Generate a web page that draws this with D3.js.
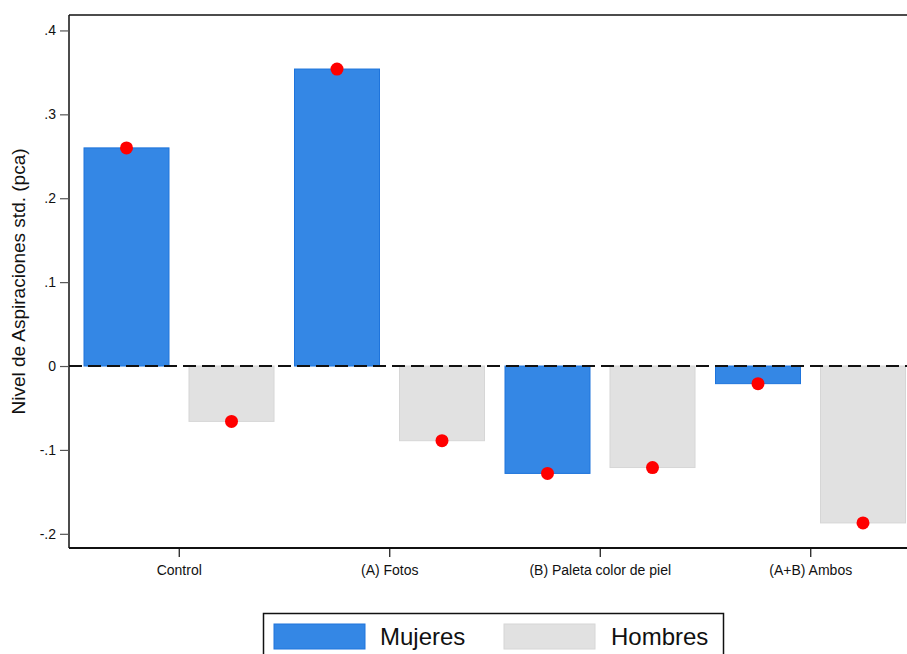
<!DOCTYPE html>
<html><head><meta charset="utf-8">
<script src="https://cdn.jsdelivr.net/npm/d3@7"></script>
<style>body{margin:0;background:#fff}svg{display:block;font-family:"Liberation Sans",Arial,sans-serif}</style>
</head><body><svg id="c" width="907" height="654"></svg>
<script>
const categories = ["Control", "(A) Fotos", "(B) Paleta color de piel", "(A+B) Ambos"];
const seriesNames = ["Mujeres", "Hombres"];
const mujeres = [0.260, 0.354, -0.128, -0.021];
const hombres = [-0.066, -0.089, -0.121, -0.187];
const yTicks = [0.4, 0.3, 0.2, 0.1, 0, -0.1, -0.2];
const yTickLabels = [".4", ".3", ".2", ".1", "0", "-.1", "-.2"];
const colors = {Mujeres: "#3487e5", Hombres: "#e1e1e1"};
const strokes = {Mujeres: "#1e74dc", Hombres: "#d6d6d6"};

const svg = d3.select("#c");
const pL = 69, pT = 15, pB = 548, pR = 907;

const x = d3.scaleBand().domain(categories).range([74, 74 + 4 * 210.5]);
const xi = d3.scaleBand().domain(seriesNames).range([10, 200]).paddingInner(20 / 105);
const y = d3.scaleLinear().domain([-0.2169, 0.4184]).range([pB, pT]);

const data = [];
categories.forEach((c, i) => {
  data.push({cat: c, s: "Mujeres", v: mujeres[i]});
  data.push({cat: c, s: "Hombres", v: hombres[i]});
});

// bars
svg.append("g").selectAll("rect").data(data).join("rect")
  .attr("x", d => x(d.cat) + xi(d.s))
  .attr("width", xi.bandwidth())
  .attr("y", d => y(Math.max(0, d.v)))
  .attr("height", d => Math.abs(y(d.v) - y(0)))
  .attr("fill", d => colors[d.s])
  .attr("stroke", d => strokes[d.s])
  .attr("stroke-width", 1);

// zero line
svg.append("line").attr("x1", pL).attr("x2", pR).attr("y1", y(0)).attr("y2", y(0))
  .attr("stroke", "#111").attr("stroke-width", 2).attr("stroke-dasharray", "13,6");

// points
svg.append("g").selectAll("circle").data(data).join("circle")
  .attr("cx", d => x(d.cat) + xi(d.s) + xi.bandwidth() / 2)
  .attr("cy", d => y(d.v))
  .attr("r", 6.5)
  .attr("fill", "#ff0000");

// frame lines
svg.append("line").attr("x1", pL).attr("x2", pR).attr("y1", pT).attr("y2", pT).attr("stroke", "#111").attr("stroke-width", 1.5);
svg.append("line").attr("x1", pL).attr("x2", pL).attr("y1", pT).attr("y2", pB).attr("stroke", "#111").attr("stroke-width", 1.5);
svg.append("line").attr("x1", pL).attr("x2", pR).attr("y1", pB).attr("y2", pB).attr("stroke", "#111").attr("stroke-width", 2);

// y axis
const yAxis = d3.axisLeft(y).tickValues(yTicks).tickSize(9).tickPadding(4)
  .tickFormat((d, i) => yTickLabels[i]);
const gy = svg.append("g").attr("transform", `translate(${pL},0)`).call(yAxis);
gy.select(".domain").remove();
gy.selectAll(".tick line").attr("stroke", "#555").attr("stroke-width", 1.2);
gy.selectAll(".tick text").attr("font-size", 14).attr("fill", "#111").attr("font-family", "Liberation Sans, Arial, sans-serif");

// x axis
const xAxis = d3.axisBottom(x).tickSize(9).tickPadding(8);
const gx = svg.append("g").attr("transform", `translate(0,${pB})`).call(xAxis);
gx.select(".domain").remove();
gx.selectAll(".tick line").attr("stroke", "#111").attr("stroke-width", 1.2);
gx.selectAll(".tick text").attr("font-size", 14).attr("fill", "#111").attr("font-family", "Liberation Sans, Arial, sans-serif");

// y title
svg.append("text").attr("transform", `translate(25,${(pT + pB) / 2}) rotate(-90)`)
  .attr("text-anchor", "middle").attr("font-size", 19).attr("fill", "#111")
  .text("Nivel de Aspiraciones std. (pca)");

// legend
const lg = svg.append("g");
lg.append("rect").attr("x", 263.5).attr("y", 613.5).attr("width", 460).attr("height", 60)
  .attr("fill", "#fff").attr("stroke", "#111").attr("stroke-width", 1.5);
const legendPos = [{s: "Mujeres", x: 274, tx: 380}, {s: "Hombres", x: 504, tx: 611}];
legendPos.forEach(p => {
  lg.append("rect").attr("x", p.x).attr("y", 624).attr("width", 91).attr("height", 25)
    .attr("fill", colors[p.s]).attr("stroke", strokes[p.s]);
  lg.append("text").attr("x", p.tx).attr("y", 645).attr("font-size", 24).attr("fill", "#111").text(p.s);
});
</script></body></html>
